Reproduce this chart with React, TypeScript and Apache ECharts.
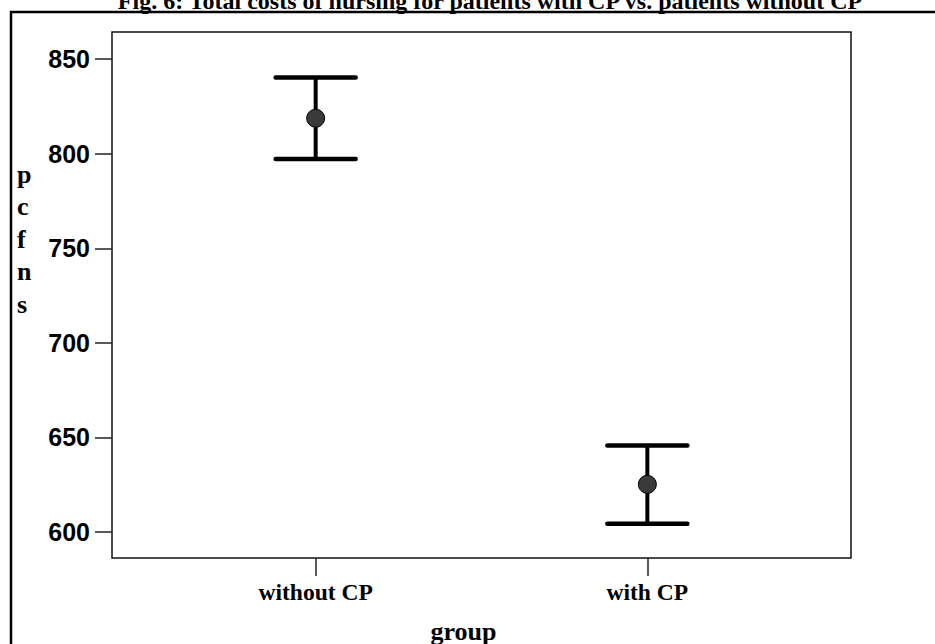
import React, { useEffect, useRef } from "react";
import * as echarts from "echarts";

const titleText = "Fig. 6: Total costs of nursing for patients with CP vs. patients without CP";
const groups = ["without CP", "with CP"];
const means = [818.8, 625.2];
const lower = [797.3, 604.4];
const upper = [840.3, 645.7];
const yTicks = [600, 650, 700, 750, 800, 850];
const yName = ["p", "c", "f", "n", "s"];
const xName = "group";

export default function App() {
  const ref = useRef<HTMLDivElement>(null);
  useEffect(() => {
    if (!ref.current) return;
    const chart = echarts.init(ref.current, null, { renderer: "svg" });
    const data = groups.map((g, i) => [i + 1, lower[i], upper[i], means[i]]);
    chart.setOption({
      animation: false,
      backgroundColor: "#fff",
      grid: {
        left: 112,
        top: 32,
        right: 84,
        bottom: 86,
        show: true,
        borderColor: "#111",
        borderWidth: 1.5,
        containLabel: false,
      },
      xAxis: {
        type: "value",
        min: 0.386,
        max: 2.614,
        axisLine: { show: false },
        splitLine: { show: false },
        axisTick: {
          show: true,
          inside: false,
          length: 18,
          customValues: groups.map((g, i) => i + 1),
          lineStyle: { color: "#222", width: 1.5 },
        },
        axisLabel: {
          customValues: groups.map((g, i) => i + 1),
          formatter: (v: number) => groups[Math.round(v) - 1] ?? "",
          margin: 22,
          fontFamily: "Liberation Serif",
          fontWeight: "bold",
          fontSize: 23.5,
          color: "#000",
        },
      },
      yAxis: {
        type: "value",
        min: 586.25,
        max: 864.4,
        axisLine: { show: false },
        splitLine: { show: false },
        axisTick: {
          show: true,
          inside: false,
          length: 17,
          customValues: yTicks,
          lineStyle: { color: "#222", width: 1.5 },
        },
        axisLabel: {
          customValues: yTicks,
          margin: 22,
          fontFamily: "Liberation Sans",
          fontWeight: "bold",
          fontSize: 25,
          color: "#000",
        },
      },
      graphic: [
        {
          type: "rect",
          shape: { x: 11, y: 12, width: 1000, height: 1000 },
          style: { fill: "none", stroke: "#000", lineWidth: 2.5 },
          silent: true,
        },
        {
          type: "text",
          x: 490,
          y: 1,
          style: {
            text: titleText,
            fontFamily: "Liberation Serif",
            fontWeight: "bold",
            fontSize: 24,
            align: "center",
            verticalAlign: "middle",
            fill: "#000",
          },
        },
        {
          type: "text",
          x: 463.5,
          y: 631,
          style: {
            text: xName,
            fontFamily: "Liberation Serif",
            fontWeight: "bold",
            fontSize: 26,
            align: "center",
            verticalAlign: "middle",
            fill: "#000",
          },
        },
        {
          type: "text",
          x: 17,
          y: 158,
          style: {
            text: yName.join("\n"),
            fontFamily: "Liberation Serif",
            fontWeight: "bold",
            fontSize: 26,
            lineHeight: 32.5,
            align: "left",
            verticalAlign: "top",
            fill: "#000",
          },
        },
      ],
      series: [
        {
          type: "custom",
          data,
          encode: { x: 0, y: [1, 2, 3] },
          renderItem: (params: any, api: any) => {
            const x = api.value(0);
            const lo = api.coord([x, api.value(1)]);
            const hi = api.coord([x, api.value(2)]);
            const m = api.coord([x, api.value(3)]);
            const hw = 40;
            const s = { stroke: "#000", lineWidth: 4.5, lineCap: "round" };
            return {
              type: "group",
              children: [
                { type: "line", shape: { x1: hi[0], y1: hi[1], x2: lo[0], y2: lo[1] }, style: { stroke: "#000", lineWidth: 4 } },
                { type: "line", shape: { x1: hi[0] - hw, y1: hi[1], x2: hi[0] + hw, y2: hi[1] }, style: s },
                { type: "line", shape: { x1: lo[0] - hw, y1: lo[1], x2: lo[0] + hw, y2: lo[1] }, style: s },
                { type: "circle", shape: { cx: m[0], cy: m[1], r: 9 }, style: { fill: "#3a3a3a", stroke: "#000", lineWidth: 1 } },
              ],
            };
          },
        },
      ],
    });
    return () => chart.dispose();
  }, []);
  return (
    <div
      ref={ref}
      style={{ position: "fixed", left: 0, top: 0, width: 935, height: 644 }}
    />
  );
}
